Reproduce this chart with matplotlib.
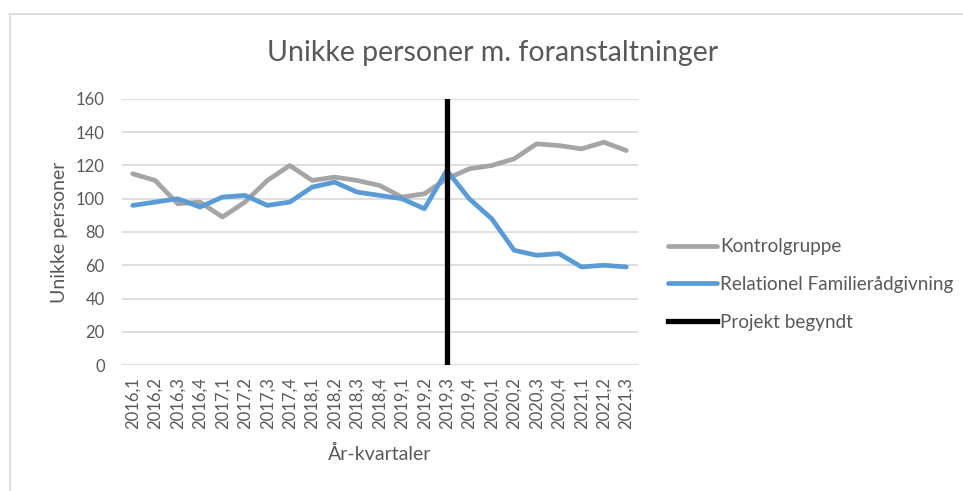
#Unikke personer m. foranstaltninger - line chart remake

#imports
import matplotlib.pyplot as plt
from matplotlib.lines import Line2D


#data
kvartaler = ['2016,1', '2016,2', '2016,3', '2016,4', '2017,1', '2017,2', '2017,3', '2017,4',
             '2018,1', '2018,2', '2018,3', '2018,4', '2019,1', '2019,2', '2019,3', '2019,4',
             '2020,1', '2020,2', '2020,3', '2020,4', '2021,1', '2021,2', '2021,3']
kontrolgruppe = [115, 111, 97, 98, 89, 98, 111, 120, 111, 113, 111, 108, 101, 103, 112, 118,
                 120, 124, 133, 132, 130, 134, 129]
relationel = [96, 98, 100, 95, 101, 102, 96, 98, 107, 110, 104, 102, 100, 94, 117, 100,
              88, 69, 66, 67, 59, 60, 59]
projekt_x = ['2019,3', '2019,3']
projekt_y = [0, 160]
y_ticks = [0, 20, 40, 60, 80, 100, 120, 140, 160]


#style
plt.rcParams['font.family'] = ['Lato', 'DejaVu Sans']
txt = '#595959'

fig = plt.figure(figsize=(9.63, 4.91), dpi=100)
ax = fig.add_axes([0.1262, 0.2566, 0.5358, 0.5418])

x = list(range(len(kvartaler)))
pos = {k: i for i, k in enumerate(kvartaler)}

ax.plot(x, kontrolgruppe, color='#A5A5A5', lw=3.4, solid_capstyle='round', label='Kontrolgruppe', zorder=3)
ax.plot(x, relationel, color='#5B9BD5', lw=3.4, solid_capstyle='round', label='Relationel Familierådgivning', zorder=4)
ax.plot([pos[k] for k in projekt_x], projekt_y, color='black', lw=3.8, label='Projekt begyndt', zorder=5)

#axes
ax.set_xlim(-0.5, len(kvartaler) - 0.5)
ax.set_ylim(0, 160)
ax.set_xticks(x)
ax.set_xticklabels(kvartaler, rotation=90)
ax.set_yticks(y_ticks)
ax.grid(axis='y', color='#D9D9D9', lw=1.2, zorder=0)
ax.set_axisbelow(True)
for s in ax.spines.values():
    s.set_visible(False)
ax.tick_params(axis='both', length=0, labelsize=12, labelcolor=txt)
ax.tick_params(axis='y', pad=12)
ax.tick_params(axis='x', pad=9)

ax.set_xlabel('År-kvartaler', fontsize=14, color=txt, labelpad=11.5)
ax.set_ylabel('Unikke personer', fontsize=14, color=txt, labelpad=6)
fig.text(0.512, 0.893, 'Unikke personer m. foranstaltninger', ha='center', va='center',
         fontsize=20.5, color=txt)

#legend
fig.legend(loc='center left', bbox_to_anchor=(0.6937, 0.4206), frameon=False, borderpad=0,
           borderaxespad=0, fontsize=13.6, handlelength=2.6, handletextpad=0.15,
           labelspacing=1.1, labelcolor=txt)

#chart border (cut off at right and bottom in the screenshot)
W, H = 963, 491
fig.add_artist(Line2D([10 / W, 10 / W], [0, 1 - 14 / H], color='#D9D9D9', lw=1.2))
fig.add_artist(Line2D([10 / W, 1], [1 - 14 / H, 1 - 14 / H], color='#D9D9D9', lw=1.2))

fig.savefig('out.png', dpi=100)
